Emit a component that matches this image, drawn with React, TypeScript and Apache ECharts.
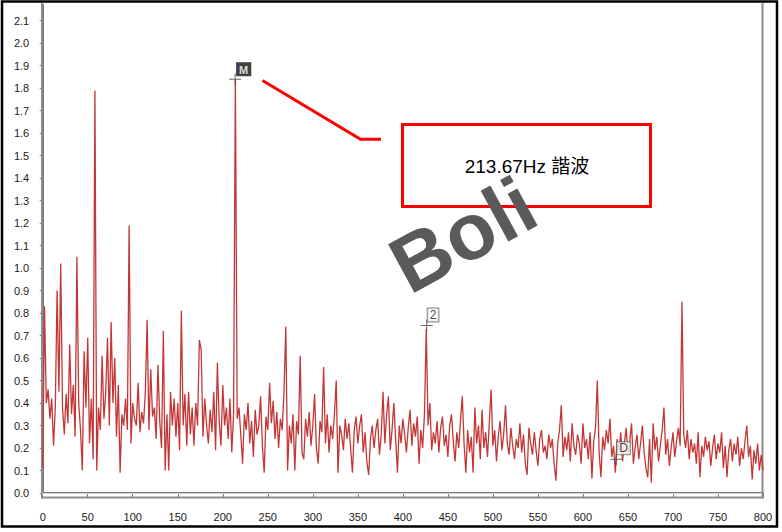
import React, { useEffect, useRef } from "react";
import * as echarts from "echarts";

// Spectrum amplitude, one value every FREQ_STEP Hz starting at 0 Hz
const FREQ_STEP = 2;
const amplitude = [
  0.11, 0.83, 0.40, 0.46, 0.33, 0.42, 0.21, 0.38, 0.90, 0.45,
  1.02, 0.38, 0.26, 0.44, 0.31, 0.66, 0.35, 0.48, 0.25, 1.05,
  0.40, 0.28, 0.10, 0.63, 0.38, 0.69, 0.22, 0.42, 0.15, 1.79,
  0.10, 0.38, 0.28, 0.61, 0.33, 0.45, 0.69, 0.30, 0.76, 0.40,
  0.60, 0.25, 0.48, 0.09, 0.35, 0.30, 0.42, 0.28, 1.19, 0.22,
  0.40, 0.33, 0.30, 0.49, 0.27, 0.36, 0.31, 0.45, 0.77, 0.28,
  0.55, 0.34, 0.38, 0.24, 0.57, 0.32, 0.20, 0.72, 0.10, 0.35,
  0.10, 0.45, 0.30, 0.42, 0.25, 0.40, 0.19, 0.81, 0.30, 0.44,
  0.21, 0.45, 0.26, 0.38, 0.21, 0.40, 0.30, 0.68, 0.64, 0.25,
  0.42, 0.30, 0.22, 0.37, 0.27, 0.45, 0.19, 0.58, 0.32, 0.21,
  0.48, 0.30, 0.38, 0.24, 0.42, 0.18, 0.35, 1.84, 0.33, 0.38,
  0.26, 0.13, 0.35, 0.28, 0.40, 0.22, 0.32, 0.16, 0.37, 0.26,
  0.30, 0.43, 0.21, 0.09, 0.34, 0.28, 0.49, 0.31, 0.41, 0.24,
  0.36, 0.20, 0.33, 0.28, 0.45, 0.74, 0.10, 0.30, 0.22, 0.35,
  0.10, 0.32, 0.26, 0.61, 0.18, 0.15, 0.33, 0.25, 0.36, 0.21,
  0.30, 0.44, 0.20, 0.13, 0.32, 0.27, 0.56, 0.22, 0.35, 0.18,
  0.30, 0.24, 0.35, 0.50, 0.09, 0.30, 0.26, 0.19, 0.33, 0.24,
  0.31, 0.20, 0.09, 0.28, 0.34, 0.22, 0.30, 0.35, 0.18, 0.27,
  0.14, 0.08, 0.24, 0.30, 0.20, 0.28, 0.33, 0.17, 0.26, 0.45,
  0.22, 0.35, 0.43, 0.19, 0.28, 0.40, 0.24, 0.09, 0.30, 0.22,
  0.33, 0.26, 0.18, 0.29, 0.37, 0.21, 0.31, 0.25, 0.34, 0.13,
  0.28, 0.20, 0.35, 0.73, 0.30, 0.40, 0.19, 0.27, 0.22, 0.32,
  0.18, 0.29, 0.34, 0.21, 0.26, 0.16, 0.30, 0.35, 0.23, 0.14,
  0.27, 0.20, 0.32, 0.43, 0.22, 0.09, 0.28, 0.18, 0.25, 0.09,
  0.38, 0.22, 0.30, 0.15, 0.37, 0.20, 0.27, 0.16, 0.31, 0.46,
  0.21, 0.28, 0.14, 0.25, 0.32, 0.19, 0.26, 0.39, 0.22, 0.17,
  0.29, 0.21, 0.15, 0.24, 0.20, 0.31, 0.18, 0.26, 0.13, 0.08,
  0.29, 0.22, 0.17, 0.27, 0.19, 0.12, 0.24, 0.28, 0.18, 0.21,
  0.15, 0.26, 0.20, 0.24, 0.13, 0.055, 0.22, 0.28, 0.39, 0.16,
  0.25, 0.19, 0.27, 0.14, 0.31, 0.21, 0.17, 0.26, 0.22, 0.13,
  0.31, 0.20, 0.24, 0.15, 0.27, 0.065, 0.23, 0.29, 0.50, 0.18,
  0.07, 0.25, 0.19, 0.28, 0.22, 0.33, 0.16, 0.21, 0.09, 0.24,
  0.18, 0.27, 0.14, 0.22, 0.29, 0.17, 0.23, 0.31, 0.13, 0.20,
  0.26, 0.15, 0.22, 0.30, 0.18, 0.11, 0.07, 0.24, 0.046, 0.31,
  0.19, 0.25, 0.14, 0.21, 0.28, 0.38, 0.17, 0.24, 0.12, 0.20,
  0.27, 0.16, 0.23, 0.29, 0.21, 0.85, 0.26, 0.20, 0.28, 0.15,
  0.24, 0.18, 0.22, 0.13, 0.27, 0.07, 0.21, 0.16, 0.25, 0.19,
  0.23, 0.12, 0.20, 0.26, 0.15, 0.22, 0.18, 0.27, 0.11, 0.21,
  0.07, 0.19, 0.24, 0.14, 0.22, 0.17, 0.25, 0.12, 0.20, 0.15,
  0.23, 0.30, 0.16, 0.21, 0.06, 0.19, 0.13, 0.22, 0.10, 0.17,
  0.10,
];

// Cursor markers
const markerNames = ["M", "2", "D"];
const markerFreqs = [213.67, 426.5, 637];
const markerValues = [1.84, 0.745, 0.15];

const annotationText = "213.67Hz 諧波";
const watermarkText = "Boli";

const X_MIN = 0;
const X_MAX = 800;
const X_INTERVAL = 50;
const Y_MIN = 0;
const Y_MAX = 2.17;
const Y_INTERVAL = 0.1;

export default function App() {
  const ref = useRef<HTMLDivElement>(null);

  useEffect(() => {
    document.body.style.margin = "0";
    const chart = echarts.init(ref.current!, null, { renderer: "svg" });

    const lineData = amplitude.map((v, i) => [i * FREQ_STEP, v]);
    const crossPath = "path://M0,5.5H12V6.5H0ZM5.5,0H6.5V12H5.5Z";

    const markerStyles: any[] = [
      { backgroundColor: "#111", color: "#fff", fontWeight: "bold", fontSize: 11, padding: [2, 3, 1, 3] },
      { backgroundColor: "#fff", color: "#111", borderColor: "#666", borderWidth: 1, fontSize: 12, padding: [1, 2, 0, 2] },
      { backgroundColor: "#fff", color: "#111", borderColor: "#666", borderWidth: 1, fontSize: 12, padding: [0, 2, 0, 2] },
    ];

    const markerData = markerNames.map((n, i) => ({
      name: n,
      value: [markerFreqs[i], markerValues[i]],
      label: {
        show: true,
        formatter: n,
        position: [7, -11],
        align: "left",
        verticalAlign: "top",
        fontFamily: "Liberation Sans, Arial, sans-serif",
        ...markerStyles[i],
      },
    }));

    const labelFont = "Liberation Sans, Arial, sans-serif";

    chart.setOption({
      animation: false,
      backgroundColor: "#fff",
      grid: { left: 42.7, right: 19, top: 5, bottom: 39, containLabel: false },
      xAxis: {
        type: "value",
        min: X_MIN,
        max: X_MAX,
        interval: X_INTERVAL,
        offset: 13,
        axisLine: { show: true, lineStyle: { color: "#7a7a7a", width: 2 } },
        axisTick: { show: true, length: 4, lineStyle: { color: "#7a7a7a" } },
        axisLabel: { color: "#1a1a1a", fontSize: 11, margin: 5, fontFamily: labelFont },
        splitLine: { show: false },
      },
      yAxis: {
        type: "value",
        min: Y_MIN,
        max: Y_MAX,
        interval: Y_INTERVAL,
        offset: 9.5,
        axisLine: { show: true, lineStyle: { color: "#7a7a7a", width: 2 } },
        axisTick: { show: true, length: 3, lineStyle: { color: "#7a7a7a" } },
        axisLabel: {
          color: "#1a1a1a",
          fontSize: 11,
          margin: 4,
          showMaxLabel: false,
          fontFamily: labelFont,
          formatter: (v: number) => v.toFixed(1),
        },
        splitLine: { show: false },
      },
      series: [
        {
          type: "line",
          data: lineData,
          showSymbol: false,
          symbol: "none",
          silent: true,
          z: 2,
          lineStyle: { color: "#c43636", width: 1.3 },
        },
        {
          type: "scatter",
          data: markerData,
          symbol: crossPath,
          symbolSize: 12,
          silent: true,
          z: 5,
          itemStyle: { color: "#444" },
        },
      ],
      graphic: [
        {
          type: "rect",
          z: 100,
          shape: { x: 2, y: 1.5, width: 775, height: 525 },
          style: { fill: "none", stroke: "#000", lineWidth: 2.5 },
        },
        { type: "line", z: 1, shape: { x1: 42, y1: 3, x2: 42, y2: 498.5 }, style: { stroke: "#8c8c8c", lineWidth: 2 } },
        { type: "line", z: 1, shape: { x1: 762.5, y1: 3, x2: 762.5, y2: 498.5 }, style: { stroke: "#8c8c8c", lineWidth: 2 } },
        { type: "line", z: 1, shape: { x1: 41, y1: 497.5, x2: 763.5, y2: 497.5 }, style: { stroke: "#8c8c8c", lineWidth: 2 } },
        { type: "line", z: 1, shape: { x1: 42, y1: 493.5, x2: 762, y2: 493.5 }, style: { stroke: "#d4d4d4", lineWidth: 1 } },
        {
          type: "polyline",
          z: 50,
          shape: { points: [[262.5, 80.5], [360.5, 139.3], [381, 139.3]] },
          style: { stroke: "#ff0000", lineWidth: 3, fill: "none" },
        },
        {
          type: "rect",
          z: 50,
          shape: { x: 402.5, y: 124.5, width: 248, height: 82 },
          style: { fill: "none", stroke: "#ff0000", lineWidth: 3 },
        },
        {
          type: "text",
          z: 51,
          x: 527,
          y: 166,
          style: {
            text: annotationText,
            align: "center",
            verticalAlign: "middle",
            fill: "#000",
            font: "19px 'Liberation Sans', 'Noto Sans CJK TC', sans-serif",
          },
        },
        {
          type: "text",
          z: 60,
          x: 463,
          y: 235,
          rotation: 0.5,
          style: {
            text: watermarkText,
            align: "center",
            verticalAlign: "middle",
            fill: "#5a5a5a",
            font: "bold 80px 'Liberation Sans', Arial, sans-serif",
          },
        },
      ],
    });

    return () => chart.dispose();
  }, []);

  return <div ref={ref} style={{ width: 782, height: 532 }} />;
}
